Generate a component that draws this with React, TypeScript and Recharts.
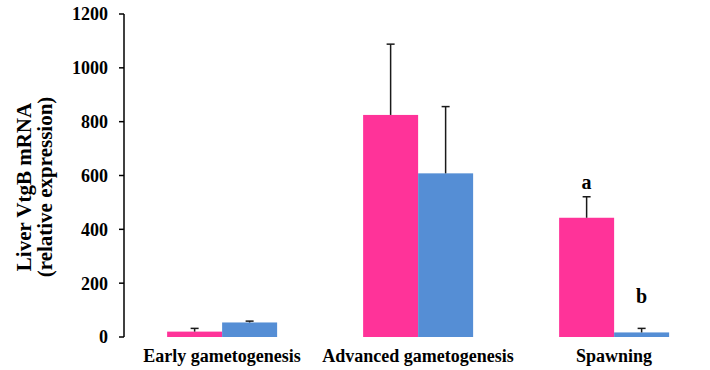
import { BarChart, Bar, XAxis, YAxis, LabelList } from 'recharts';

const stages = ['Early gametogenesis', 'Advanced gametogenesis', 'Spawning'];
const femaleMean = [20, 825, 443];
const femaleSD = [12, 263, 78];
const maleMean = [54, 608, 17];
const maleSD = [5, 248, 15];
const femaleLetters = ['', '', 'a'];
const maleLetters = ['', '', 'b'];
const yTicks = [0, 200, 400, 600, 800, 1000, 1200];

const data = stages.map((stage, i) => ({
    stage,
    idx: i + 0.5,
    female: femaleMean[i],
    femaleSD: femaleSD[i],
    male: maleMean[i],
    maleSD: maleSD[i],
}));

const FONT = "'Liberation Serif', 'Times New Roman', serif";

// bar with an upper-only error whisker (T shape)
const barWithError = (fill: string, sdKey: string) => (props: any) => {
    const { x, y, width, height, value, payload } = props;
    const v = Array.isArray(value) ? value[1] - value[0] : value;
    const pxPerUnit = v ? height / v : 0;
    const top = y - payload[sdKey] * pxPerUnit;
    const cx = x + width / 2;
    return (
        <g>
            <rect x={x} y={y} width={width} height={height} fill={fill} />
            <line x1={cx} y1={y} x2={cx} y2={top} stroke="#1a1a1a" strokeWidth={1.5} />
            <line x1={cx - 4} y1={top} x2={cx + 4} y2={top} stroke="#1a1a1a" strokeWidth={1.5} />
        </g>
    );
};

const letterLabel = (letters: string[]) => (props: any) => {
    const { x, y, width, index } = props;
    const t = letters[index];
    if (!t) return null;
    return (
        <text
            x={x + width / 2}
            y={y - 35}
            dy={6}
            textAnchor="middle"
            fontWeight="bold"
            fontSize={20}
            fill="#000"
        >
            {t}
        </text>
    );
};

const YLabel = () => (
    <text
        transform="translate(34, 187) rotate(-90)"
        textAnchor="middle"
        fontWeight="bold"
        fontSize={21}
        fill="#000"
    >
        <tspan x={0} dy={-3}>Liver VtgB mRNA</tspan>
        <tspan x={0} dy={21}>(relative expression)</tspan>
    </text>
);

export default function App() {
    return (
        <div style={{ position: 'absolute', left: 0, top: 0, width: 710, height: 370, overflow: 'hidden', background: '#fff', fontFamily: FONT }}>
            <BarChart
                width={714}
                height={370}
                data={data}
                margin={{ top: 14, right: 2, left: 64, bottom: 8 }}
                barCategoryGap="22%"
                barGap={0}
                style={{ fontFamily: FONT }}
            >
                <XAxis
                    xAxisId="lines"
                    type="number"
                    dataKey="idx"
                    domain={[0, 3]}
                    ticks={[0, 1, 2, 3]}
                    tick={false}
                    tickSize={6}
                    height={0}
                    stroke="#000"
                    strokeWidth={1.5}
                />
                <XAxis
                    xAxisId="cat"
                    dataKey="stage"
                    axisLine={false}
                    tickLine={false}
                    tickSize={0}
                    tickMargin={12}
                    height={25}
                    tick={{ fontWeight: 'bold', fontSize: 18, fill: '#000' }}
                />
                <YAxis
                    domain={[0, 1200]}
                    ticks={yTicks}
                    width={60}
                    tickSize={5}
                    tickMargin={11}
                    stroke="#000"
                    strokeWidth={1.5}
                    tick={{ fontWeight: 'bold', fontSize: 18, fill: '#000' }}
                    label={<YLabel />}
                />
                <Bar
                    xAxisId="cat"
                    dataKey="female"
                    fill="#FF3399"
                    isAnimationActive={false}
                    shape={barWithError('#FF3399', 'femaleSD')}
                >
                    <LabelList dataKey="female" content={letterLabel(femaleLetters)} />
                </Bar>
                <Bar
                    xAxisId="cat"
                    dataKey="male"
                    fill="#558ED5"
                    isAnimationActive={false}
                    shape={barWithError('#558ED5', 'maleSD')}
                >
                    <LabelList dataKey="male" content={letterLabel(maleLetters)} />
                </Bar>
            </BarChart>
        </div>
    );
}
